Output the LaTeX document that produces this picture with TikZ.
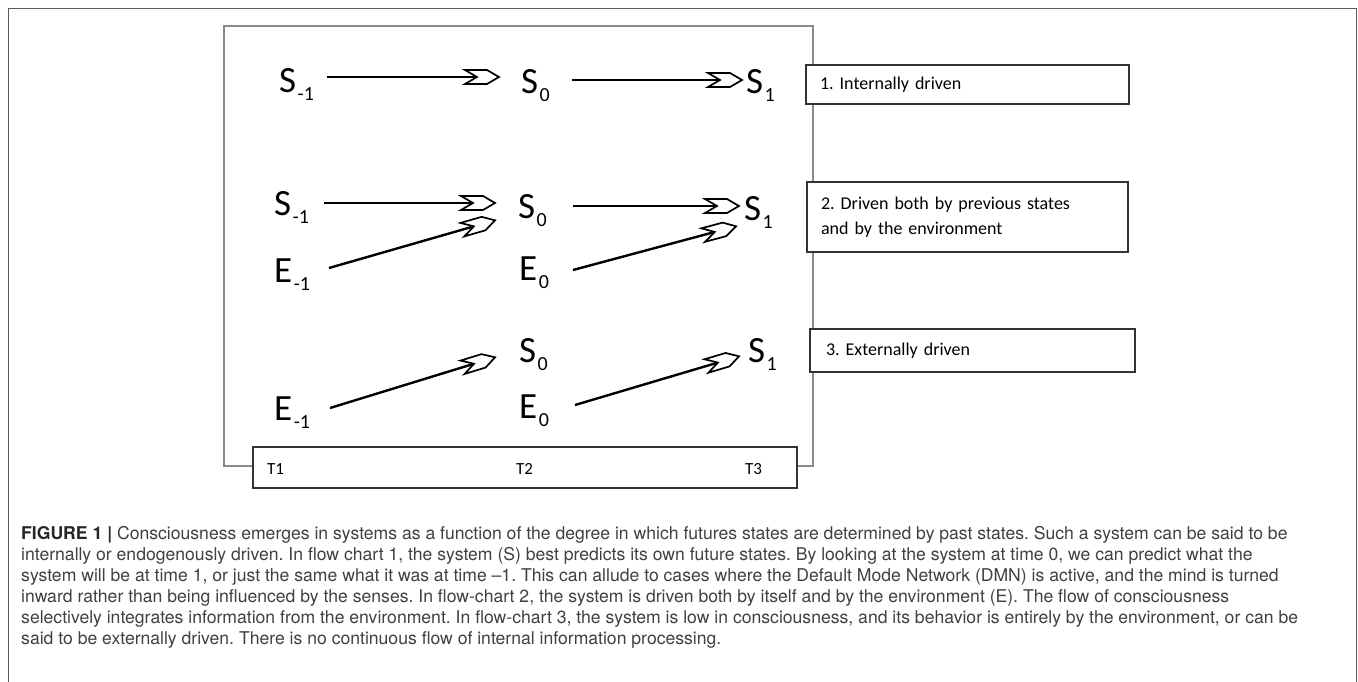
\documentclass[tikz,border=0pt]{standalone}
\usepackage{fontspec}
\setmainfont{Carlito}
\newfontfamily\capfont{TeX Gyre Heros}
\usetikzlibrary{arrows.meta}
\frenchspacing
\definecolor{framegray}{HTML}{8A8A8A}
\definecolor{outergray}{HTML}{5A5A5A}
\definecolor{boxgray}{HTML}{333333}
\definecolor{captext}{HTML}{404040}
\pgfdeclarearrow{
  name = Chev,
  parameters = {},
  setup code = {
    \pgfarrowssettipend{1pt}
    \pgfarrowssetlineend{-20pt}
    \pgfarrowssetvisualbackend{-34pt}
    \pgfarrowssetbackend{-34pt}
    \pgfarrowshullpoint{1pt}{0pt}
    \pgfarrowsupperhullpoint{-34pt}{7pt}
  },
  drawing code = {
    \pgfsetdash{}{0pt}
    \pgfsetlinewidth{1.7pt}
    \pgfsetmiterjoin
    \pgfpathmoveto{\pgfqpoint{0pt}{0pt}}
    \pgfpathlineto{\pgfqpoint{-12pt}{7pt}}
    \pgfpathlineto{\pgfqpoint{-34pt}{7pt}}
    \pgfpathlineto{\pgfqpoint{-22pt}{0pt}}
    \pgfpathlineto{\pgfqpoint{-34pt}{-7pt}}
    \pgfpathlineto{\pgfqpoint{-12pt}{-7pt}}
    \pgfpathclose
    \pgfsetfillcolor{white}
    \pgfusepathqfillstroke
  }
}
\newcommand{\sv}[2]{#1\hspace{1.5pt}\raisebox{-8pt}{\fontsize{20}{20}\selectfont #2}}
\tikzset{
  var/.style={inner sep=0pt, anchor=base west, font=\fontsize{37}{37}\selectfont},
  arr/.style={-Chev, line width=2.4pt, black},
  lbl/.style={draw=boxgray, line width=1.4pt, fill=white, inner xsep=14pt, inner ysep=0pt,
    align=left, font=\fontsize{18}{25}\selectfont},
  tlab/.style={inner sep=0pt, anchor=base west, font=\fontsize{17}{17}\selectfont},
  capline/.style={inner sep=0pt, anchor=base west, text=captext, font=\capfont\fontsize{17.6}{17.6}\selectfont}
}
\begin{document}
\begin{tikzpicture}[x=1pt,y=-1pt]
\useasboundingbox (0,0) rectangle (1358,681);
% outer frame
\draw[outergray, line width=1pt] (8,700) -- (8,8) -- (1356,8) -- (1356,700);
% inner frame
\draw[framegray, line width=1.5pt] (224,26) rectangle (813,466);
% time box
\node[draw=boxgray, line width=1.2pt, fill=white, minimum width=544pt, minimum height=41pt, inner sep=0pt] (tbox) at (525,467.5) {};
\node[tlab] (t1) at (267,474) {T1};
\node[tlab] (t2) at (516,474) {T2};
\node[tlab] (t3) at (745,474) {T3};
% label boxes
\node[lbl, minimum width=323pt, minimum height=39pt, text width=295pt] (L1) at (967.5,84.5) {1. Internally driven};
\node[lbl, minimum width=321pt, minimum height=70pt, text width=293pt] (L2) at (967.5,217) {2. Driven both by previous states\\and by the environment};
\node[lbl, minimum width=321pt, minimum height=43pt, text width=293pt, inner xsep=16pt] (L3) at (972.5,350.5) {3. Externally driven};
% row 1
\node[var] (Sm1a) at (279,92) {\sv{S}{-1}};
\node[var] (S0a) at (521,93) {\sv{S}{0}};
\node[var] (S1a) at (746,93) {\sv{S}{1}};
\draw[arr] ([shift={(48,-15)}]Sm1a.base west) -- ([shift={(-21,-16)}]S0a.base west);
\draw[arr] ([shift={(51,-13)}]S0a.base west) -- ([shift={(-3,-13)}]S1a.base west);
% row 2
\node[var] (Sm1b) at (274,215) {\sv{S}{-1}};
\node[var] (S0b) at (518,218) {\sv{S}{0}};
\node[var] (S1b) at (744,220) {\sv{S}{1}};
\node[var] (Em1b) at (274,282) {\sv{E}{-1}};
\node[var] (E0b) at (519,280) {\sv{E}{0}};
\draw[arr] ([shift={(50,-12)}]Sm1b.base west) -- ([shift={(-22,-15)}]S0b.base west);
\draw[arr] ([shift={(55,-14)}]Em1b.base west) -- ([shift={(-22,2)}]S0b.base west);
\draw[arr] ([shift={(55,-12)}]S0b.base west) -- ([shift={(-4,-14)}]S1b.base west);
\draw[arr] ([shift={(54,-10)}]E0b.base west) -- ([shift={(-7,6)}]S1b.base west);
% row 3
\node[var] (S0c) at (519,362) {\sv{S}{0}};
\node[var] (S1c) at (748,362) {\sv{S}{1}};
\node[var] (Em1c) at (274,420) {\sv{E}{-1}};
\node[var] (E0c) at (519,418) {\sv{E}{0}};
\draw[arr] ([shift={(56,-12)}]Em1c.base west) -- ([shift={(-23,-5)}]S0c.base west);
\draw[arr] ([shift={(56,-13)}]E0c.base west) -- ([shift={(-8,-6)}]S1c.base west);
% caption
\node[capline] (c1) at (21,539) {\textbf{\color{black!85}FIGURE 1 |} Consciousness emerges in systems as a function of the degree in which futures states are determined by past states. Such a system can be said to be};
\node[capline] (c2) at (21,560) {internally or endogenously driven. In flow chart 1, the system (S) best predicts its own future states. By looking at the system at time 0, we can predict what the};
\node[capline] (c3) at (21,581) {system will be at time 1, or just the same what it was at time {\textendash}1. This can allude to cases where the Default Mode Network (DMN) is active, and the mind is turned};
\node[capline] (c4) at (21,602) {inward rather than being influenced by the senses. In flow-chart 2, the system is driven both by itself and by the environment (E). The flow of consciousness};
\node[capline] (c5) at (21,623) {selectively integrates information from the environment. In flow-chart 3, the system is low in consciousness, and its behavior is entirely by the environment, or can be};
\node[capline] (c6) at (21,644) {said to be externally driven. There is no continuous flow of internal information processing.};
\end{tikzpicture}
\end{document}
